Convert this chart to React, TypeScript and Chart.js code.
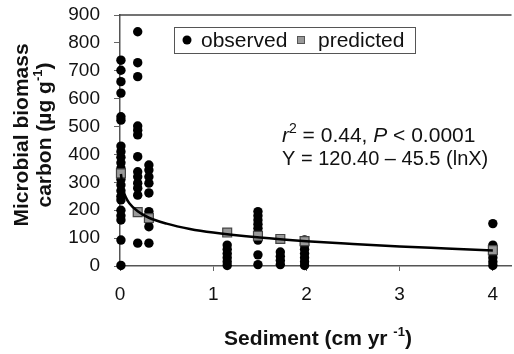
import { useEffect, useRef } from 'react';
import { Chart, registerables } from 'chart.js';

Chart.register(...registerables);

const FONT = '"Liberation Sans", Arial, sans-serif';

// Tick values
const X_TICKS = [0, 1, 2, 3, 4];
const Y_TICKS = [0, 100, 200, 300, 400, 500, 600, 700, 800, 900];

// Observed values, by sediment-rate column
const obsX_a = 0.01;
const obsY_a = [738, 702, 661, 620, 535, 523, 430, 410, 390, 370, 350, 330, 310, 290, 270, 250, 237, 200, 180, 165, 93, 2];
const obsX_b = 0.19;
const obsY_b = [840, 729, 679, 502, 487, 470, 392, 338, 320, 297, 279, 254, 82];
const obsX_c = 0.31;
const obsY_c = [362, 344, 320, 297, 262, 195, 165, 141, 82];
const obsX_d = 1.15;
const obsY_d = [75, 60, 45, 30, 15, 2];
const obsX_e = 1.48;
const obsY_e = [195, 180, 165, 150, 135, 120, 105, 93, 40, 5];
const obsX_f = 1.72;
const obsY_f = [50, 35, 20, 5];
const obsX_g = 1.98;
const obsY_g = [93, 75, 60, 45, 30, 15, 2];
const obsX_h = 4.0;
const obsY_h = [152, 75, 60, 45, 30, 15, 2];

// Predicted values
const predX = [0.01, 0.19, 0.31, 1.15, 1.48, 1.72, 1.98, 4.0];
const predY = [332, 193, 172, 120, 108, 97, 89, 57];

// Fitted curve
const fitX = [0.01, 0.03, 0.06, 0.1, 0.19, 0.31, 0.5, 0.75, 1, 1.5, 2, 2.5, 3, 3.5, 4];
const fitY = [330, 280, 248, 225, 196, 173, 152, 133, 120, 102, 89, 79, 70, 63, 56];

const columns: [number, number[]][] = [
  [obsX_a, obsY_a], [obsX_b, obsY_b], [obsX_c, obsY_c], [obsX_d, obsY_d],
  [obsX_e, obsY_e], [obsX_f, obsY_f], [obsX_g, obsY_g], [obsX_h, obsY_h],
];

type Seg = { t: string; font: string; dy?: number };

function drawRich(ctx: CanvasRenderingContext2D, segs: Seg[], x: number, y: number, align: 'left' | 'center') {
  let w = 0;
  segs.forEach((s) => { ctx.font = s.font; w += ctx.measureText(s.t).width; });
  let cx = align === 'center' ? x - w / 2 : x;
  segs.forEach((s) => {
    ctx.font = s.font;
    ctx.fillText(s.t, cx, y + (s.dy || 0));
    cx += ctx.measureText(s.t).width;
  });
}

const decorPlugin = {
  id: 'decor',
  afterDraw(chart: any) {
    const ctx: CanvasRenderingContext2D = chart.ctx;
    const area = chart.chartArea;
    ctx.save();
    // top frame line
    ctx.strokeStyle = '#444';
    ctx.lineWidth = 1.5;
    ctx.beginPath();
    ctx.moveTo(area.left - 1, area.top);
    ctx.lineTo(area.right, area.top);
    ctx.stroke();

    ctx.fillStyle = '#111';
    ctx.textBaseline = 'alphabetic';

    // legend
    ctx.strokeStyle = '#555';
    ctx.lineWidth = 1;
    ctx.strokeRect(174.5, 27.5, 241, 26);
    ctx.beginPath();
    ctx.arc(187, 40, 4.5, 0, Math.PI * 2);
    ctx.fillStyle = '#000';
    ctx.fill();
    ctx.fillStyle = '#999';
    ctx.fillRect(297, 36, 8, 8);
    ctx.strokeStyle = '#555';
    ctx.strokeRect(297.5, 36.5, 7, 7);
    ctx.fillStyle = '#111';
    ctx.font = `21px ${FONT}`;
    ctx.fillText('observed', 201, 47);
    ctx.fillText('predicted', 318, 47);

    // annotation
    drawRich(ctx, [
      { t: 'r', font: `italic 21px ${FONT}` },
      { t: '2', font: `14px ${FONT}`, dy: -9 },
      { t: ' = 0.44, ', font: `21px ${FONT}` },
      { t: 'P', font: `italic 21px ${FONT}` },
      { t: ' < 0.0001', font: `21px ${FONT}` },
    ], 282, 142, 'left');
    drawRich(ctx, [
      { t: 'Y = 120.40 \u2013 45.5 (lnX)', font: `20px ${FONT}` },
    ], 282, 165, 'left');

    // x title
    drawRich(ctx, [
      { t: 'Sediment (cm yr ', font: `bold 21px ${FONT}` },
      { t: '-1', font: `bold 13px ${FONT}`, dy: -9 },
      { t: ')', font: `bold 21px ${FONT}` },
    ], 318, 345, 'center');

    // y title (rotated)
    ctx.save();
    ctx.translate(28, 135);
    ctx.rotate(-Math.PI / 2);
    drawRich(ctx, [{ t: 'Microbial biomass', font: `bold 21px ${FONT}` }], 0, 0, 'center');
    ctx.restore();
    ctx.save();
    ctx.translate(51, 135);
    ctx.rotate(-Math.PI / 2);
    drawRich(ctx, [
      { t: 'carbon (\u00b5g g', font: `bold 21px ${FONT}` },
      { t: '-1', font: `bold 13px ${FONT}`, dy: -9 },
      { t: ')', font: `bold 21px ${FONT}` },
    ], 0, 0, 'center');
    ctx.restore();
    ctx.restore();
  },
};

export default function App() {
  const ref = useRef<HTMLCanvasElement>(null);
  useEffect(() => {
    const obsData: { x: number; y: number }[] = [];
    columns.forEach(([x, ys]) => ys.forEach((y) => obsData.push({ x, y })));
    const predData = predX.map((x, i) => ({ x, y: predY[i] }));
    const fitData = fitX.map((x, i) => ({ x, y: fitY[i] }));

    const chart = new Chart(ref.current!, {
      type: 'scatter',
      data: {
        datasets: [
          {
            label: 'fit',
            data: fitData,
            showLine: true,
            borderColor: '#000',
            borderWidth: 2.5,
            pointRadius: 0,
            cubicInterpolationMode: 'monotone',
            clip: false,
            order: 0,
          } as any,
          {
            label: 'predicted',
            data: predData,
            pointStyle: 'rect',
            pointRadius: 6.3,
            backgroundColor: '#999',
            borderColor: '#444',
            borderWidth: 1.2,
            clip: false,
            order: 1,
          } as any,
          {
            label: 'observed',
            data: obsData,
            pointStyle: 'circle',
            pointRadius: 4.7,
            backgroundColor: '#000',
            borderColor: '#000',
            borderWidth: 0,
            clip: false,
            order: 2,
          } as any,
        ],
      },
      options: {
        animation: false,
        responsive: false,
        maintainAspectRatio: false,
        devicePixelRatio: 1,
        layout: { padding: { top: 15, right: 0, left: 0, bottom: 0 } },
        plugins: { legend: { display: false }, tooltip: { enabled: false } },
        scales: {
          x: {
            type: 'linear',
            min: 0,
            max: 4.2,
            afterFit: (s: any) => { s.height = 88; s.paddingLeft = 0; s.paddingRight = 0; },
            afterBuildTicks: (s: any) => { s.ticks = X_TICKS.map((v) => ({ value: v })); },
            ticks: { color: '#111', font: { family: FONT, size: 19 }, padding: 12, maxRotation: 0 },
            grid: { display: true, drawOnChartArea: false, drawTicks: true, tickLength: 5, color: '#666', lineWidth: 1 },
            border: { display: true, color: '#555', width: 1.5 },
          },
          y: {
            type: 'linear',
            min: 0,
            max: 900,
            afterFit: (s: any) => { s.width = 120; s.paddingTop = 0; s.paddingBottom = 0; },
            afterBuildTicks: (s: any) => { s.ticks = Y_TICKS.map((v) => ({ value: v })); },
            ticks: { color: '#111', font: { family: FONT, size: 19 }, padding: 14 },
            grid: { display: true, drawOnChartArea: false, drawTicks: true, tickLength: 6, color: '#666', lineWidth: 1 },
            border: { display: true, color: '#555', width: 1.5 },
          },
        },
      },
      plugins: [decorPlugin],
    });
    return () => chart.destroy();
  }, []);
  return (
    <div style={{ position: 'absolute', left: 0, top: 0, width: 514, height: 354, overflow: 'hidden', background: '#fff' }}>
      <canvas ref={ref} width={519} height={354} style={{ display: 'block', width: 519, height: 354 }} />
    </div>
  );
}
